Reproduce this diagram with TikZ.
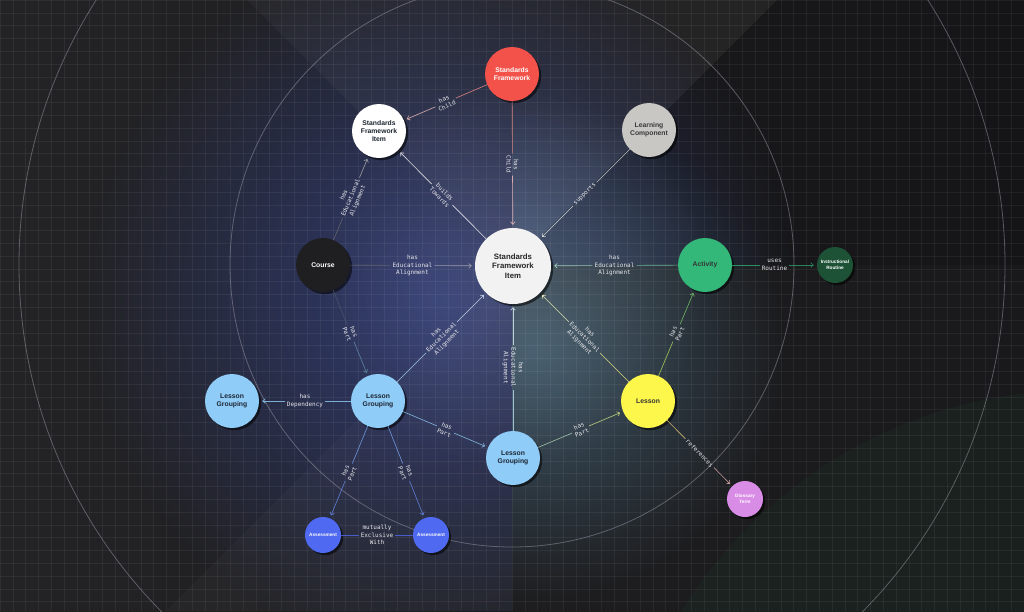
\documentclass[tikz,border=0pt]{standalone}
\usepackage{fontspec}
\setmainfont{Liberation Sans}
\newfontfamily\monof{DejaVu Sans Mono}
\usetikzlibrary{arrows.meta,fadings,shadows}
\definecolor{bgL}{HTML}{232325}
\definecolor{bgR}{HTML}{19191B}
\definecolor{glowBlue}{HTML}{34407C}
\definecolor{glowTeal}{HTML}{4A6A80}
\definecolor{glowGreen}{HTML}{1E3A28}
\definecolor{ringC}{HTML}{9A9AA6}
\definecolor{cRed}{HTML}{F2524A}
\definecolor{cCenter}{HTML}{F2F2F2}
\definecolor{cGray}{HTML}{C9C7C3}
\definecolor{cBlack}{HTML}{1F1F21}
\definecolor{cGreen}{HTML}{33B87A}
\definecolor{cGreenD}{HTML}{2A8F5E}
\definecolor{cDkGreen}{HTML}{1D5237}
\definecolor{cBlue}{HTML}{90CCF8}
\definecolor{cYellow}{HTML}{FDF64B}
\definecolor{cPink}{HTML}{D98CE6}
\definecolor{cAssess}{HTML}{4F69F0}
\definecolor{labC}{HTML}{E6E6EA}
\definecolor{darkText}{HTML}{1C2430}
\tikzfading[name=glowfade, inner color=transparent!0, outer color=transparent!100]
\tikzset{
  nd/.style={circle, inner sep=0pt, minimum size=54pt, align=center,
    font=\bfseries\fontsize{6.8}{7.6}\selectfont, text=darkText,
    drop shadow={shadow xshift=2.2pt, shadow yshift=-2.2pt, opacity=.55, fill=black}},
  ndsmall/.style={nd, minimum size=36pt, font=\bfseries\fontsize{4.7}{5.4}\selectfont},
  lab/.style={inner sep=2pt, align=center, text=labC, font=\monof\fontsize{6}{7.4}\selectfont},
  ln/.style={line width=0.65pt, opacity=0.8},
  arr/.style={-{Straight Barb[length=2.6pt,width=4.6pt]}, shorten >=3pt},
  gridln/.style={white, opacity=0.055, line width=0.5pt},
  ring/.style={ringC, opacity=0.5, line width=0.8pt}
}
% #1 label options, #2 source, #3 target, #4 label name, #5 text, #6 source colour, #7 target colour, #8 end options
\newcommand\relEdge[8][sloped]{%
  \path (#2) -- node[lab,#1] (#4) {#5} (#3);
  \draw[ln,draw=#6!65!#7] (#2) -- (#4);
  \draw[ln,draw=#7!65!#6,#8] (#4) -- (#3);
}
\begin{document}
\begin{tikzpicture}[x=1pt,y=-1pt]
\useasboundingbox (0,0) rectangle (1024,611);
% ---------- background ----------
\shade[left color=bgL, right color=bgR] (0,0) rectangle (1024,611);
\begin{scope}
  \clip (0,0) -- (1024,0) -- (1024,265) -- (512,265) -- (512,611) -- (0,611) -- cycle;
  \fill[glowBlue, opacity=0.9, path fading=glowfade] (440,300) circle (360);
\end{scope}
\begin{scope}
  \clip (512,0) rectangle (1024,611);
  \fill[glowTeal, opacity=0.75, path fading=glowfade] (535,350) circle (250);
\end{scope}
\fill[white, opacity=0.035] (512,265) -- (247,0) -- (777,0) -- cycle;
\fill[white, opacity=0.025] (512,265) -- (166,611) -- (512,611) -- cycle;
\fill[black, opacity=0.12] (512,265) -- (777,0) -- (1024,0) -- (1024,265) -- cycle;
\fill[white, opacity=0.10, path fading=glowfade] (513,275) circle (200);
\fill[glowGreen, opacity=0.22] (1080,860) circle (470);
\foreach \i in {0,...,80} \draw[gridln] (\i*12.8,0) -- (\i*12.8,611);
\foreach \j in {0,...,48} \draw[gridln] (0,\j*12.8) -- (1024,\j*12.8);
\draw[ring] (512,265) circle (282);
\draw[ring] (512,265) circle (493);
% ---------- nodes ----------
\node[nd, fill=cRed, text=white] (sf) at (512,74) {Standards\\Framework};
\node[nd, fill=white] (sfi) at (379,131) {Standards\\Framework\\Item};
\node[nd, fill=cGray, text=black!78] (lc) at (649,130) {Learning\\Component};
\node[nd, fill=cCenter, minimum size=76pt, font=\bfseries\fontsize{7.8}{9.7}\selectfont, text=black!85] (ctr) at (513,266) {Standards\\Framework\\Item};
\node[nd, fill=cBlack, text=white] (course) at (323,265) {Course};
\node[nd, fill=cGreen, text=black!80] (act) at (705,265) {Activity};
\node[ndsmall, fill=cDkGreen, text=white] (ir) at (835,265) {Instructional\\Routine};
\node[nd, fill=cBlue] (lgl) at (232,401) {Lesson\\Grouping};
\node[nd, fill=cBlue] (lgm) at (378,401) {Lesson\\Grouping};
\node[nd, fill=cBlue] (lgb) at (513,458) {Lesson\\Grouping};
\node[nd, fill=cYellow, text=black!80] (lesson) at (648,401) {Lesson};
\node[ndsmall, fill=cPink, text=white] (gt) at (745,499) {Glossary\\Term};
\node[ndsmall, fill=cAssess, text=white] (asl) at (323,535) {Assessment};
\node[ndsmall, fill=cAssess, text=white] (asr) at (431,535) {Assessment};
% ---------- connectors ----------
\relEdge{sf}{sfi}{l1}{has\\Child}{cRed}{white}{arr}
\relEdge[rotate=-90]{sf}{ctr}{l2}{has\\Child}{cRed}{white}{arr}
\relEdge{lc}{ctr}{l3}{supports}{cGray}{white}{arr}
\relEdge{ctr}{sfi}{l4}{builds\\Towards}{white}{white}{arr}
\relEdge{course}{sfi}{l5}{has\\Educational\\Alignment}{cBlack}{white}{arr}
\relEdge{course}{ctr}{l6}{has\\Educational\\Alignment}{cBlack}{white}{arr}
\relEdge{act}{ctr}{l7}{has\\Educational\\Alignment}{cGreen}{white}{arr}
\relEdge{act}{ir}{l8}{uses\\Routine}{cGreen}{cGreenD}{arr}
\relEdge{course}{lgm}{l9}{has\\Part}{cBlack}{cBlue}{arr}
\relEdge{lgm}{ctr}{l10}{has\\Educational\\Alignment}{cBlue}{white}{arr}
\relEdge[rotate=-90]{lgb}{ctr}{l11}{has\\Educational\\Alignment}{cBlue}{white}{arr}
\relEdge{lesson}{ctr}{l12}{has\\Educational\\Alignment}{cYellow}{white}{arr}
\relEdge{lesson}{act}{l13}{has\\Part}{cYellow}{cGreen}{arr}
\relEdge{lgm}{lgl}{l14}{has\\Dependency}{cBlue}{cBlue}{arr}
\relEdge{lgm}{lgb}{l15}{has\\Part}{cBlue}{cBlue}{arr}
\relEdge{lgb}{lesson}{l16}{has\\Part}{cBlue}{cYellow}{arr}
\relEdge{lgm}{asl}{l17}{has\\Part}{cBlue}{cAssess}{arr}
\relEdge{lgm}{asr}{l18}{has\\Part}{cBlue}{cAssess}{arr}
\relEdge{asl}{asr}{l19}{mutually\\Exclusive\\With}{cAssess}{cAssess}{}
\relEdge{lesson}{gt}{l20}{references}{cYellow}{cPink}{arr}
\end{tikzpicture}
\end{document}
